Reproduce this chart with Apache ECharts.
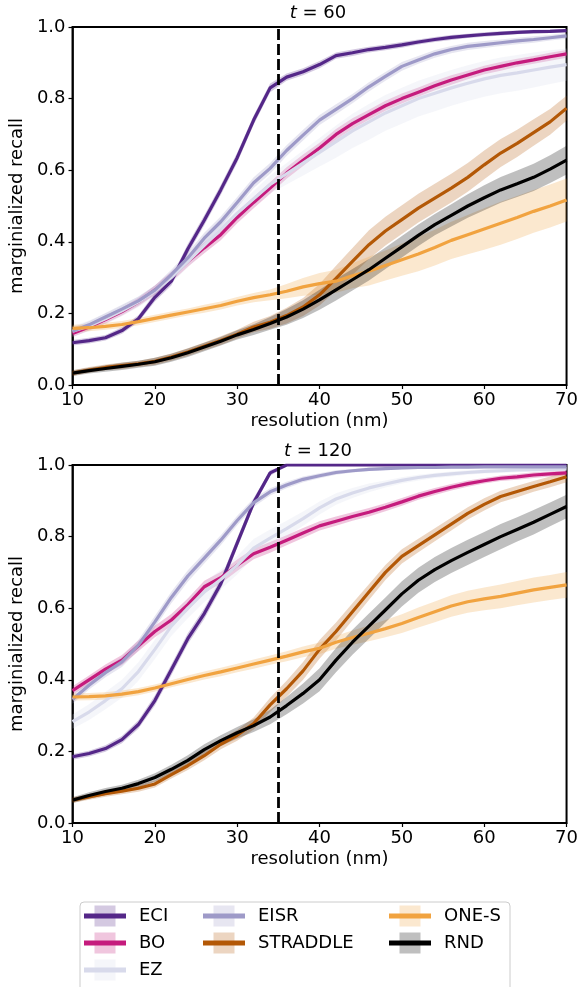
<!DOCTYPE html>
<html>
<head>
<meta charset="utf-8">
<script src="https://cdn.jsdelivr.net/npm/echarts@6.0.0/dist/echarts.min.js"></script>
<style>
  html, body { margin: 0; padding: 0; background: #ffffff; }
  #chart { width: 581px; height: 987px; }
</style>
</head>
<body>
<div id="chart"></div>
<script>
// Resolution grid (nm) shared by every curve
const resolutionNm = [10,12,14,16,18,20,22,24,26,28,30,32,34,36,38,40,42,44,46,48,50,52,54,56,58,60,62,64,66,68,70];
const thresholdNm = 35;
const panelSteps = ['60', '120'];
const methodNames = ['ECI', 'BO', 'EZ', 'EISR', 'STRADDLE', 'ONE-S', 'RND'];

// ---- t = 60: mean marginalized recall ----
const eciT60      = [0.118,0.124,0.132,0.152,0.185,0.245,0.29,0.38,0.46,0.545,0.635,0.74,0.83,0.86,0.875,0.895,0.92,0.928,0.937,0.943,0.95,0.958,0.965,0.971,0.975,0.979,0.982,0.985,0.987,0.988,0.99];
const boT60       = [0.144,0.162,0.183,0.205,0.232,0.265,0.302,0.345,0.383,0.42,0.468,0.51,0.55,0.592,0.628,0.662,0.70,0.73,0.755,0.78,0.80,0.818,0.836,0.852,0.866,0.88,0.89,0.90,0.908,0.917,0.925];
const ezT60       = [0.15,0.165,0.185,0.207,0.232,0.262,0.30,0.345,0.39,0.435,0.48,0.52,0.56,0.59,0.62,0.65,0.68,0.71,0.735,0.76,0.78,0.80,0.815,0.83,0.843,0.855,0.865,0.872,0.88,0.888,0.895];
const eisrT60     = [0.15,0.168,0.19,0.212,0.235,0.265,0.308,0.355,0.41,0.456,0.51,0.565,0.605,0.655,0.698,0.74,0.77,0.80,0.833,0.862,0.89,0.908,0.925,0.937,0.946,0.951,0.956,0.961,0.965,0.97,0.975];
const straddleT60 = [0.033,0.042,0.049,0.054,0.059,0.066,0.078,0.092,0.108,0.124,0.142,0.162,0.175,0.194,0.218,0.252,0.298,0.345,0.392,0.43,0.462,0.494,0.522,0.55,0.58,0.615,0.648,0.675,0.705,0.735,0.773];
const oneST60     = [0.158,0.16,0.164,0.169,0.177,0.186,0.195,0.204,0.213,0.222,0.234,0.244,0.252,0.262,0.274,0.283,0.29,0.305,0.318,0.334,0.35,0.366,0.384,0.404,0.42,0.436,0.452,0.468,0.485,0.50,0.517];
const rndT60      = [0.033,0.04,0.046,0.052,0.058,0.065,0.076,0.09,0.106,0.122,0.14,0.155,0.172,0.19,0.212,0.238,0.266,0.294,0.322,0.354,0.386,0.418,0.448,0.474,0.50,0.523,0.545,0.562,0.58,0.603,0.628];

// ---- t = 60: spread (half-width of shaded band) ----
const eciT60Sd      = [0.008,0.008,0.008,0.009,0.01,0.012,0.012,0.014,0.014,0.014,0.014,0.013,0.012,0.01,0.01,0.01,0.009,0.009,0.008,0.008,0.008,0.007,0.007,0.007,0.006,0.006,0.006,0.005,0.005,0.005,0.005];
const boT60Sd       = [0.01,0.01,0.011,0.011,0.012,0.013,0.014,0.015,0.015,0.016,0.016,0.016,0.016,0.016,0.016,0.015,0.015,0.015,0.014,0.014,0.014,0.013,0.013,0.013,0.012,0.012,0.012,0.011,0.011,0.011,0.011];
const ezT60Sd       = [0.015,0.015,0.015,0.015,0.015,0.015,0.016,0.017,0.018,0.019,0.02,0.022,0.025,0.03,0.035,0.04,0.045,0.048,0.05,0.05,0.05,0.05,0.05,0.05,0.05,0.05,0.05,0.05,0.049,0.047,0.045];
const eisrT60Sd     = [0.01,0.01,0.011,0.012,0.012,0.013,0.014,0.015,0.015,0.015,0.015,0.015,0.015,0.015,0.015,0.014,0.014,0.013,0.013,0.012,0.012,0.011,0.011,0.01,0.01,0.01,0.009,0.009,0.009,0.008,0.008];
const straddleT60Sd = [0.008,0.008,0.008,0.009,0.009,0.01,0.01,0.011,0.011,0.012,0.012,0.015,0.018,0.022,0.025,0.03,0.035,0.038,0.04,0.04,0.04,0.04,0.04,0.04,0.04,0.04,0.039,0.038,0.037,0.036,0.035];
const oneST60Sd     = [0.01,0.01,0.01,0.01,0.01,0.01,0.01,0.01,0.011,0.011,0.012,0.013,0.015,0.02,0.025,0.03,0.032,0.035,0.04,0.042,0.045,0.048,0.05,0.052,0.055,0.058,0.06,0.06,0.06,0.06,0.06];
const rndT60Sd      = [0.008,0.008,0.009,0.01,0.01,0.011,0.011,0.012,0.012,0.012,0.013,0.015,0.018,0.022,0.025,0.028,0.03,0.03,0.03,0.03,0.03,0.03,0.03,0.031,0.033,0.035,0.036,0.037,0.038,0.039,0.04];

// ---- t = 120: mean marginalized recall ----
const eciT120      = [0.185,0.194,0.208,0.233,0.275,0.342,0.428,0.515,0.585,0.668,0.782,0.895,0.978,1,1,1,1,1,1,1,1,1,1,1,1,1,1,1,1,1,1];
const boT120       = [0.37,0.40,0.43,0.455,0.495,0.535,0.567,0.61,0.66,0.685,0.72,0.752,0.77,0.79,0.81,0.83,0.843,0.856,0.868,0.882,0.897,0.913,0.926,0.938,0.948,0.956,0.963,0.967,0.972,0.975,0.978];
const ezT120       = [0.283,0.31,0.342,0.375,0.423,0.485,0.55,0.60,0.645,0.68,0.72,0.768,0.796,0.822,0.85,0.88,0.905,0.922,0.936,0.947,0.957,0.965,0.971,0.975,0.979,0.982,0.984,0.986,0.987,0.988,0.989];
const eisrT120     = [0.345,0.385,0.42,0.45,0.497,0.562,0.63,0.69,0.74,0.79,0.845,0.895,0.925,0.944,0.96,0.97,0.979,0.984,0.988,0.99,0.992,0.993,0.993,0.994,0.994,0.995,0.995,0.995,0.995,0.995,0.995];
const straddleT120 = [0.064,0.073,0.082,0.089,0.097,0.109,0.135,0.16,0.188,0.22,0.245,0.278,0.33,0.375,0.425,0.485,0.535,0.59,0.645,0.70,0.745,0.775,0.805,0.835,0.865,0.89,0.912,0.926,0.94,0.953,0.967];
const oneST120     = [0.352,0.353,0.355,0.36,0.367,0.377,0.389,0.401,0.412,0.422,0.433,0.444,0.455,0.466,0.478,0.488,0.505,0.518,0.53,0.543,0.557,0.574,0.59,0.606,0.618,0.626,0.633,0.642,0.651,0.658,0.665];
const rndT120      = [0.064,0.077,0.088,0.097,0.11,0.127,0.15,0.175,0.205,0.23,0.252,0.272,0.296,0.328,0.362,0.40,0.455,0.505,0.55,0.595,0.64,0.678,0.708,0.733,0.756,0.778,0.80,0.82,0.84,0.862,0.884];

// ---- t = 120: spread (half-width of shaded band) ----
const eciT120Sd      = [0.008,0.008,0.009,0.01,0.012,0.014,0.015,0.015,0.015,0.015,0.014,0.012,0.008,0.003,0.003,0.003,0.003,0.003,0.003,0.003,0.003,0.003,0.003,0.003,0.003,0.003,0.003,0.003,0.003,0.003,0.003];
const boT120Sd       = [0.012,0.012,0.013,0.014,0.015,0.016,0.017,0.017,0.017,0.016,0.016,0.015,0.015,0.014,0.014,0.013,0.013,0.012,0.012,0.011,0.011,0.01,0.01,0.009,0.009,0.008,0.008,0.008,0.008,0.007,0.007];
const ezT120Sd       = [0.02,0.022,0.024,0.025,0.026,0.027,0.028,0.028,0.028,0.027,0.026,0.025,0.024,0.022,0.02,0.018,0.016,0.014,0.012,0.01,0.009,0.008,0.007,0.007,0.006,0.006,0.006,0.006,0.006,0.006,0.006];
const eisrT120Sd     = [0.012,0.012,0.013,0.014,0.015,0.016,0.016,0.016,0.015,0.014,0.013,0.012,0.01,0.009,0.008,0.007,0.006,0.005,0.005,0.004,0.004,0.004,0.004,0.004,0.004,0.004,0.004,0.004,0.004,0.004,0.004];
const straddleT120Sd = [0.008,0.008,0.009,0.009,0.01,0.01,0.011,0.012,0.013,0.014,0.015,0.017,0.02,0.022,0.025,0.026,0.025,0.024,0.022,0.021,0.02,0.019,0.018,0.018,0.017,0.017,0.016,0.016,0.015,0.015,0.015];
const oneST120Sd     = [0.01,0.01,0.01,0.01,0.01,0.01,0.01,0.011,0.011,0.012,0.012,0.013,0.013,0.014,0.015,0.016,0.018,0.02,0.022,0.024,0.026,0.028,0.029,0.03,0.031,0.032,0.033,0.034,0.035,0.035,0.036];
const rndT120Sd      = [0.008,0.009,0.01,0.01,0.011,0.012,0.013,0.014,0.015,0.015,0.016,0.018,0.02,0.024,0.028,0.032,0.034,0.035,0.035,0.035,0.035,0.035,0.035,0.035,0.035,0.035,0.035,0.034,0.034,0.033,0.033];

// Line colours per method
const methodColors = {
  'ECI': '#542788', 'BO': '#c51b7d', 'EZ': '#d8daeb', 'EISR': '#9e9ac8',
  'STRADDLE': '#b35806', 'ONE-S': '#f1a340', 'RND': '#000000'
};
const bandAlpha = 0.25;

const panels = [
  { ECI: [eciT60, eciT60Sd], BO: [boT60, boT60Sd], EZ: [ezT60, ezT60Sd], EISR: [eisrT60, eisrT60Sd],
    STRADDLE: [straddleT60, straddleT60Sd], 'ONE-S': [oneST60, oneST60Sd], RND: [rndT60, rndT60Sd] },
  { ECI: [eciT120, eciT120Sd], BO: [boT120, boT120Sd], EZ: [ezT120, ezT120Sd], EISR: [eisrT120, eisrT120Sd],
    STRADDLE: [straddleT120, straddleT120Sd], 'ONE-S': [oneST120, oneST120Sd], RND: [rndT120, rndT120Sd] }
];

function hexToRgba(hex, a) {
  const n = parseInt(hex.slice(1), 16);
  return 'rgba(' + ((n >> 16) & 255) + ',' + ((n >> 8) & 255) + ',' + (n & 255) + ',' + a + ')';
}
function pairs(vals) { return resolutionNm.map((x, i) => [x, vals[i]]); }
const clamp01 = v => Math.max(0, Math.min(1, v));

const FONT = 'DejaVu Sans';
const series = [];

panels.forEach((panel, p) => {
  // shaded bands (mean +/- spread), drawn as one polygon per method under all lines
  methodNames.forEach(m => {
    const [mean, sd] = panel[m];
    const rows = resolutionNm.map((x, i) => [x, clamp01(mean[i] - sd[i]), clamp01(mean[i] + sd[i])]);
    const fill = hexToRgba(methodColors[m], bandAlpha);
    series.push({
      type: 'custom', name: m + ' spread', xAxisIndex: p, yAxisIndex: p,
      silent: true, z: 1, data: rows, encode: { x: 0, y: [1, 2] },
      renderItem: (params, api) => {
        if (params.dataIndex !== 0) return null;
        const pts = [];
        for (let i = 0; i < rows.length; i++) pts.push(api.coord([rows[i][0], rows[i][2]]));
        for (let i = rows.length - 1; i >= 0; i--) pts.push(api.coord([rows[i][0], rows[i][1]]));
        return { type: 'polygon', shape: { points: pts }, style: { fill: fill, stroke: null } };
      }
    });
  });
  // mean curves
  methodNames.forEach((m, k) => {
    const s = {
      type: 'line', name: m, xAxisIndex: p, yAxisIndex: p, data: pairs(panel[m][0]),
      symbol: 'none', z: 3,
      lineStyle: { color: methodColors[m], width: 3.2 },
      itemStyle: { color: methodColors[m] }
    };
    if (k === methodNames.length - 1) {
      s.markLine = {
        silent: true, symbol: ['none', 'none'], label: { show: false },
        lineStyle: { color: '#000', type: [11, 4], width: 2.8 },
        data: [{ xAxis: thresholdNm }]
      };
    }
    series.push(s);
  });
});

const gridTops = [27, 465];
const grids = gridTops.map(t => ({
  left: 69, top: t, width: 498, height: 358, show: true,
  borderColor: '#000', borderWidth: 2, backgroundColor: 'transparent'
}));

const xAxes = gridTops.map((t, i) => ({
  type: 'value', gridIndex: i, min: 10, max: 70, interval: 10,
  axisLine: { lineStyle: { color: '#000', width: 1.5 } },
  axisTick: { length: 4, lineStyle: { color: '#000', width: 1.2 } },
  axisLabel: { color: '#000', fontSize: 18, fontFamily: FONT, margin: 6 },
  splitLine: { show: false },
  name: 'resolution (nm)', nameLocation: 'middle', nameGap: 27,
  nameTextStyle: { color: '#000', fontSize: 18, fontFamily: FONT }
}));

const yAxes = gridTops.map((t, i) => ({
  type: 'value', gridIndex: i, min: 0, max: 1, interval: 0.2,
  axisLine: { show: true, lineStyle: { color: '#000', width: 1.5 } },
  axisTick: { show: true, length: 4, lineStyle: { color: '#000', width: 1.2 } },
  axisLabel: { color: '#000', fontSize: 18, fontFamily: FONT, margin: 7, formatter: v => v.toFixed(1) },
  splitLine: { show: false },
  name: 'marginialized recall', nameLocation: 'middle', nameGap: 42,
  nameTextStyle: { color: '#000', fontSize: 18, fontFamily: FONT }
}));

const titles = panelSteps.map((step, i) => ({
  text: '{i|t} = ' + step,
  left: 318, top: gridTops[i] - 23, textAlign: 'center', padding: 0,
  textStyle: {
    color: '#000', fontSize: 18, fontWeight: 'normal', fontFamily: FONT,
    rich: { i: { fontStyle: 'italic', fontSize: 18, fontFamily: FONT, color: '#000' } }
  }
}));

// Legend: three columns, each a vertical legend
const legendColumns = [
  { names: ['ECI', 'BO', 'EZ'], left: 84 },
  { names: ['EISR', 'STRADDLE'], left: 203 },
  { names: ['ONE-S', 'RND'], left: 389 }
];
const legendTop = 905, rowH = 27, iconW = 42, swatch = 21;
const legends = legendColumns.map(c => ({
  data: c.names, left: c.left, top: legendTop, orient: 'vertical',
  icon: 'rect', itemWidth: iconW, itemHeight: 5, itemGap: rowH - 22, padding: 0,
  selectedMode: false, z: 10,
  textStyle: { color: '#000', fontSize: 18, fontFamily: FONT, lineHeight: 22, padding: [0, 0, 0, 8] }
}));

const graphics = [{
  type: 'rect', left: 79.5, top: 901.5, z: 0, silent: true,
  shape: { width: 430, height: 100, r: 4 },
  style: { fill: '#fff', stroke: '#cccccc', lineWidth: 1 }
}];
legendColumns.forEach(c => {
  c.names.forEach((n, r) => {
    graphics.push({
      type: 'rect', silent: true, z: 1,
      x: c.left + iconW / 2 - swatch / 2, y: legendTop + 11 + r * rowH - swatch / 2,
      shape: { width: swatch, height: swatch },
      style: { fill: hexToRgba(methodColors[n], bandAlpha) }
    });
  });
});

const chart = echarts.init(document.getElementById('chart'), null, { renderer: 'canvas' });
chart.setOption({
  animation: false,
  backgroundColor: '#ffffff',
  textStyle: { fontFamily: FONT },
  title: titles,
  grid: grids,
  xAxis: xAxes,
  yAxis: yAxes,
  legend: legends,
  graphic: graphics,
  series: series
});
</script>
</body>
</html>
